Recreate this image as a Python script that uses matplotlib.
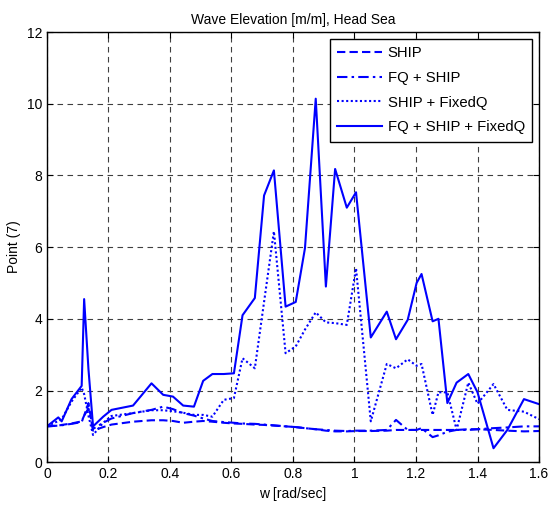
import matplotlib
matplotlib.use("Agg")
import matplotlib.pyplot as plt

plt.rcParams["font.family"] = ["Liberation Sans", "DejaVu Sans"]

# frequency grid (rad/sec)
w = [0.0, 0.037, 0.048, 0.08, 0.113, 0.121, 0.135, 0.15, 0.183, 0.21, 0.28, 0.34,
     0.378, 0.41, 0.443, 0.478, 0.508, 0.538, 0.575, 0.608, 0.636, 0.676, 0.706,
     0.738, 0.776, 0.809, 0.839, 0.874, 0.907, 0.937, 0.975, 1.005, 1.053, 1.105,
     1.135, 1.173, 1.202, 1.218, 1.254, 1.273, 1.302, 1.332, 1.37, 1.4, 1.452,
     1.497, 1.551, 1.6]

ship = [1.0, 1.02, 1.04, 1.08, 1.14, 1.3, 1.65, 0.88, 0.98, 1.05, 1.13, 1.17,
        1.17, 1.15, 1.1, 1.13, 1.15, 1.13, 1.1, 1.08, 1.07, 1.05, 1.04,
        1.02, 1.0, 0.98, 0.95, 0.92, 0.88, 0.86, 0.86, 0.87, 0.87, 0.88,
        0.9, 0.9, 0.9, 0.9, 0.9, 0.9, 0.9, 0.9, 0.92, 0.92, 0.9,
        0.88, 0.86, 0.87]

fq_ship = [1.0, 1.02, 1.03, 1.07, 1.12, 1.3, 1.5, 0.93, 1.1, 1.22, 1.37, 1.46,
           1.55, 1.48, 1.37, 1.3, 1.22, 1.15, 1.12, 1.1, 1.08, 1.07, 1.05,
           1.03, 1.0, 0.98, 0.95, 0.92, 0.9, 0.88, 0.87, 0.88, 0.88, 0.9,
           1.18, 0.9, 0.9, 0.95, 0.7, 0.75, 0.85, 0.9, 0.9, 0.92, 0.95,
           0.97, 1.0, 1.0]

ship_fixedq = [1.0, 1.15, 1.2, 1.69, 2.08, 1.9, 1.3, 0.76, 1.1, 1.29, 1.37, 1.45,
               1.45, 1.42, 1.38, 1.32, 1.32, 1.27, 1.74, 1.79, 2.9, 2.62, 4.47,
               6.44, 3.04, 3.23, 3.7, 4.18, 3.9, 3.88, 3.83, 5.41, 1.14, 2.74,
               2.62, 2.87, 2.69, 2.74, 1.32, 1.95, 1.95, 0.9, 2.22, 1.63, 2.18,
               1.46, 1.41, 1.2]

fq_ship_fixedq = [1.0, 1.25, 1.14, 1.76, 2.13, 4.55, 2.6, 1.0, 1.27, 1.46, 1.58, 2.2,
                  1.88, 1.83, 1.58, 1.55, 2.27, 2.46, 2.46, 2.48, 4.1, 4.58, 7.44,
                  8.14, 4.34, 4.47, 5.97, 10.14, 4.9, 8.18, 7.1, 7.53, 3.48, 4.2,
                  3.43, 3.97, 5.0, 5.25, 3.93, 4.0, 1.65, 2.22, 2.46, 1.95, 0.39,
                  0.9, 1.76, 1.62]

labels = ["SHIP", "FQ + SHIP", "SHIP + FixedQ", "FQ + SHIP + FixedQ"]

fig = plt.figure(figsize=(5.52, 5.13), dpi=100)
ax = fig.add_axes([0.085, 0.099, 0.8915, 0.8386])

blue = "#0000FF"
lw = 1.5
ax.plot(w, ship, color=blue, lw=lw, ls=(0, (4, 2)), label=labels[0])
ax.plot(w, fq_ship, color=blue, lw=lw, ls=(0, (5, 2, 1.2, 2)), label=labels[1])
ax.plot(w, ship_fixedq, color=blue, lw=lw, ls=(0, (1, 1.2)), label=labels[2])
ax.plot(w, fq_ship_fixedq, color=blue, lw=lw, ls="-", label=labels[3])

ax.set_xlim(0, 1.6)
ax.set_ylim(0, 12)
ax.set_xticks([0, 0.2, 0.4, 0.6, 0.8, 1.0, 1.2, 1.4, 1.6])
ax.set_xticklabels(["0", "0.2", "0.4", "0.6", "0.8", "1", "1.2", "1.4", "1.6"])
ax.set_yticks(range(0, 13, 2))
ax.tick_params(direction="in", top=True, right=True, length=4, labelsize=10)
ax.grid(True, color="0.25", ls=(0, (5, 4)), lw=0.8)
for s in ax.spines.values():
    s.set_linewidth(1.0)

ax.set_title("Wave Elevation [m/m], Head Sea", fontsize=10)
ax.set_xlabel("w [rad/sec]", fontsize=10)
ax.set_ylabel("Point (7)", fontsize=10)

leg = ax.legend(loc="upper right", fontsize=10.7, fancybox=False, framealpha=1,
                edgecolor="black", handlelength=3.0, handletextpad=0.4,
                borderaxespad=0.45, borderpad=0.5, labelspacing=0.72)
leg.get_frame().set_linewidth(1.0)

fig.savefig("out.png", dpi=100)
